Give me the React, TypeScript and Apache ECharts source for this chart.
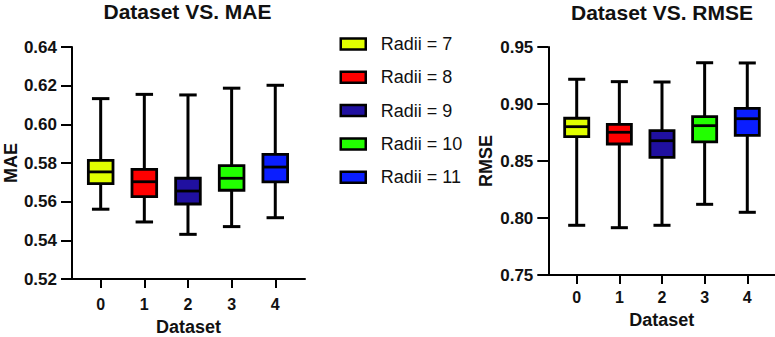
import React, { useEffect, useRef } from "react";
import * as echarts from "echarts";

const datasets = [0, 1, 2, 3, 4];
const radiiNames = ["Radii = 7", "Radii = 8", "Radii = 9", "Radii = 10", "Radii = 11"];
const boxColors = ["#E1FF00", "#FF0000", "#2010A0", "#22FF00", "#0A1EFF"];

const maeMin = [0.5561, 0.5495, 0.5431, 0.5471, 0.5517];
const maeQ1 = [0.5693, 0.5626, 0.5588, 0.5659, 0.5702];
const maeMedian = [0.5754, 0.5703, 0.5655, 0.5721, 0.5779];
const maeQ3 = [0.5814, 0.5767, 0.5721, 0.5786, 0.5845];
const maeMax = [0.6133, 0.6155, 0.6152, 0.6187, 0.6202];

const rmseMin = [0.7936, 0.7915, 0.7936, 0.812, 0.805];
const rmseQ1 = [0.8713, 0.8649, 0.8532, 0.8667, 0.8725];
const rmseMedian = [0.8801, 0.8752, 0.8678, 0.881, 0.8871];
const rmseQ3 = [0.8875, 0.8822, 0.8766, 0.8889, 0.8962];
const rmseMax = [0.9217, 0.9196, 0.9193, 0.9362, 0.936];

const FONT = "'Liberation Sans', Arial, Helvetica, sans-serif";

function makeRender(color: string) {
  return (params: any, api: any) => {
    const x = api.value(0);
    const lo = api.coord([x, api.value(1)]);
    const q1 = api.coord([x, api.value(2)]);
    const med = api.coord([x, api.value(3)]);
    const q3 = api.coord([x, api.value(4)]);
    const hi = api.coord([x, api.value(5)]);
    const band = api.size([1, 0])[0];
    const boxW = band * 0.565;
    const capW = band * 0.4;
    const cx = lo[0];
    const stroke = { stroke: "#000", lineWidth: 3 };
    return {
      type: "group",
      children: [
        { type: "line", shape: { x1: cx, y1: hi[1], x2: cx, y2: lo[1] }, style: stroke },
        { type: "line", shape: { x1: cx - capW / 2, y1: hi[1], x2: cx + capW / 2, y2: hi[1] }, style: stroke },
        { type: "line", shape: { x1: cx - capW / 2, y1: lo[1], x2: cx + capW / 2, y2: lo[1] }, style: stroke },
        {
          type: "rect",
          shape: { x: cx - boxW / 2, y: q3[1], width: boxW, height: q1[1] - q3[1] },
          style: { fill: color, stroke: "#000", lineWidth: 2.8 },
        },
        { type: "line", shape: { x1: cx - boxW / 2, y1: med[1], x2: cx + boxW / 2, y2: med[1] }, style: { stroke: "#000", lineWidth: 2.8 } },
      ],
    };
  };
}

function buildSeries(gridIdx: number, mins: number[], q1s: number[], meds: number[], q3s: number[], maxs: number[]) {
  return datasets.map((d, i) => ({
    type: "custom",
    name: radiiNames[i],
    xAxisIndex: gridIdx,
    yAxisIndex: gridIdx,
    itemStyle: { color: boxColors[i] },
    renderItem: makeRender(boxColors[i]),
    encode: { x: 0, y: [1, 2, 3, 4, 5] },
    data: [[d, mins[i], q1s[i], meds[i], q3s[i], maxs[i]]],
  }));
}

const axisLineStyle = { color: "#000", width: 2 };

export default function App() {
  const ref = useRef<HTMLDivElement>(null);
  useEffect(() => {
    if (!ref.current) return;
    const chart = echarts.init(ref.current, undefined, { renderer: "svg" });
    const xAxisCommon = (min: number, max: number, margin: number, nameGap: number) => ({
      type: "value",
      min,
      max,
      name: "Dataset",
      nameLocation: "middle",
      nameGap,
      nameTextStyle: { fontFamily: FONT, fontSize: 18, fontWeight: "bold", color: "#111" },
      splitLine: { show: false },
      axisLine: { show: true, onZero: false, lineStyle: axisLineStyle },
      axisTick: { show: true, length: 9, customValues: datasets, lineStyle: axisLineStyle },
      axisLabel: {
        show: true,
        customValues: datasets,
        margin,
        fontFamily: FONT,
        fontSize: 16,
        fontWeight: "bold",
        color: "#111",
        formatter: (v: number) => String(Math.round(v)),
      },
    });
    const yAxisCommon = (min: number, max: number, interval: number, name: string, nameGap: number) => ({
      type: "value",
      min,
      max,
      interval,
      name,
      nameLocation: "middle",
      nameGap,
      nameTextStyle: { fontFamily: FONT, fontSize: 18, fontWeight: "bold", color: "#111" },
      splitLine: { show: false },
      axisLine: { show: true, onZero: false, lineStyle: axisLineStyle },
      axisTick: { show: true, length: 11, lineStyle: axisLineStyle },
      axisLabel: {
        margin: 15,
        fontFamily: FONT,
        fontSize: 17,
        fontWeight: "bold",
        color: "#111",
        formatter: (v: number) => v.toFixed(2),
      },
    });
    chart.setOption({
      animation: false,
      backgroundColor: "#fff",
      grid: [
        { left: 72, width: 233, top: 47, bottom: 58, outerBoundsMode: "none", containLabel: false },
        { left: 548.3, right: 0, top: 47, bottom: 62, outerBoundsMode: "none", containLabel: false },
      ],
      xAxis: [
        { gridIndex: 0, ...xAxisCommon(-0.657, 4.681, 17, 38.5) },
        { gridIndex: 1, ...xAxisCommon(-0.666, 4.65, 14.5, 36) },
      ],
      yAxis: [
        { gridIndex: 0, ...yAxisCommon(0.52, 0.64, 0.02, "MAE", 51) },
        { gridIndex: 1, ...yAxisCommon(0.75, 0.95, 0.05, "RMSE", 53) },
      ],
      legend: {
        orient: "vertical",
        left: 334.5,
        top: 30,
        itemWidth: 25,
        itemHeight: 11,
        itemGap: 15.3,
        icon: "rect",
        itemStyle: { borderColor: "#000", borderWidth: 2.5 },
        textStyle: { fontFamily: FONT, fontSize: 18, color: "#111", padding: [0, 0, 0, 10] },
        data: radiiNames,
      },
      graphic: [
        {
          type: "text",
          x: 187.5,
          y: 11,
          style: { text: "Dataset VS. MAE", fontFamily: FONT, fontSize: 21, fontWeight: "bold", fill: "#111", align: "center", verticalAlign: "middle" },
        },
        {
          type: "text",
          x: 662,
          y: 12.5,
          style: { text: "Dataset VS. RMSE", fontFamily: FONT, fontSize: 21, fontWeight: "bold", fill: "#111", align: "center", verticalAlign: "middle" },
        },
      ],
      series: [
        ...buildSeries(0, maeMin, maeQ1, maeMedian, maeQ3, maeMax),
        ...buildSeries(1, rmseMin, rmseQ1, rmseMedian, rmseQ3, rmseMax),
      ],
    });
    return () => chart.dispose();
  }, []);
  return <div ref={ref} style={{ position: "absolute", left: 0, top: 0, width: 775, height: 337 }} />;
}
